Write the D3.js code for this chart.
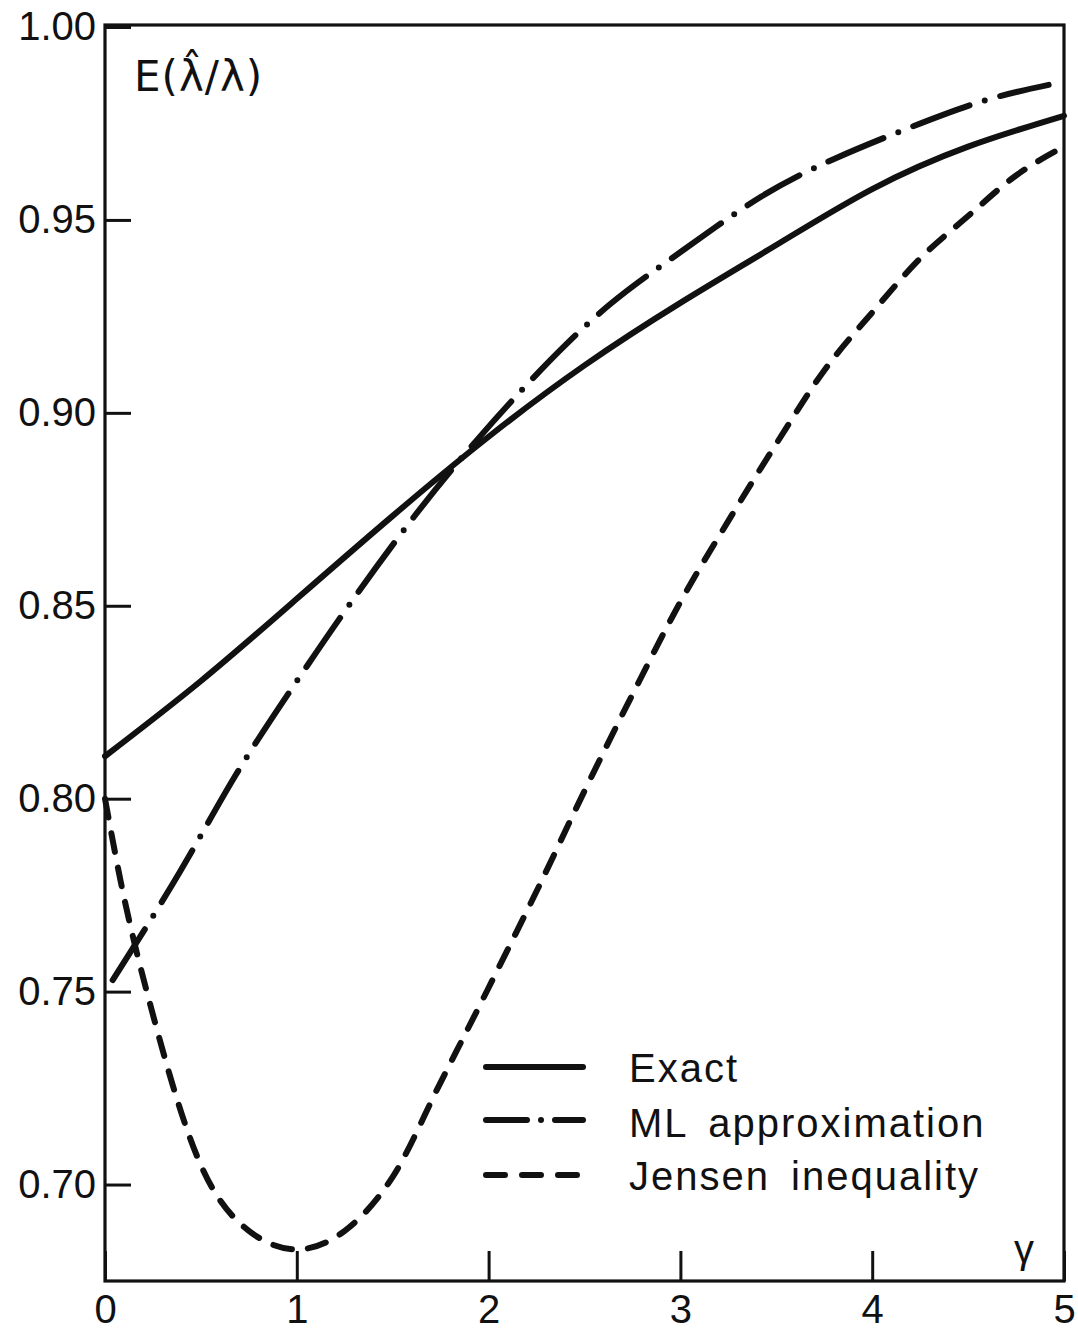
<!DOCTYPE html>
<html>
<head>
<meta charset="utf-8">
<script src="https://cdn.jsdelivr.net/npm/d3@7"></script>
<style>
  html, body { margin: 0; padding: 0; background: #fff; }
  svg { display: block; }
  text { font-family: "Liberation Sans", Arial, sans-serif; fill: #111; }
</style>
</head>
<body>
<svg id="chart" width="1078" height="1333"></svg>
<script>
// ---- data ----
const exactGamma  = [0, 0.5, 1, 1.5, 2, 2.5, 3, 3.5, 4, 4.5, 5];
const exactValues = [0.811, 0.8305, 0.8518, 0.8733, 0.8938, 0.9123, 0.9285, 0.9435, 0.958, 0.969, 0.977];

const mlGamma  = [0.04, 0.39, 0.68, 0.98, 1.27, 1.61, 1.94, 2.27, 2.63, 3.01, 3.42, 3.81, 4.20, 4.59, 4.92];
const mlValues = [0.753, 0.781, 0.806, 0.829, 0.850, 0.873, 0.893, 0.911, 0.928, 0.942, 0.956, 0.966, 0.974, 0.981, 0.985];

const jensenGamma  = [0, 0.08, 0.25, 0.5, 0.75, 1.0, 1.25, 1.5, 1.75, 2.0, 2.25, 2.5, 2.75, 3.0, 3.25, 3.5, 3.75, 4.0, 4.25, 4.5, 4.75, 5.0];
const jensenValues = [0.800, 0.779, 0.744, 0.705, 0.688, 0.6832, 0.688, 0.702, 0.7265, 0.751, 0.776, 0.802, 0.827, 0.851, 0.872, 0.892, 0.911, 0.926, 0.940, 0.951, 0.9615, 0.969];

const xTicks = [0, 1, 2, 3, 4, 5];
const yTicks = [0.70, 0.75, 0.80, 0.85, 0.90, 0.95, 1.00];
const seriesNames = ["Exact", "ML approximation", "Jensen inequality"];
const yLabel = "E(\u03BB\u0302/\u03BB)";
const xLabel = "\u03B3";

// ---- layout ----
const svg = d3.select("#chart");
const plotL = 105, plotR = 1064, plotT = 27, plotB = 1281;
const x = d3.scaleLinear().domain([0, 5]).range([plotL, plotR]);
const y = d3.scaleLinear().domain([0.675, 1.0]).range([plotB, plotT]);
const ink = "#111";

// frame
svg.append("rect")
  .attr("x", plotL).attr("y", plotT - 2)
  .attr("width", plotR - plotL).attr("height", plotB - plotT + 2)
  .attr("fill", "none").attr("stroke", ink).attr("stroke-width", 3.2);

// y axis
const yAxis = d3.axisLeft(y).tickValues(yTicks).tickFormat(d3.format(".2f"))
  .tickSizeInner(-26).tickSizeOuter(0).tickPadding(9);
const gy = svg.append("g").attr("transform", `translate(${plotL},0)`).call(yAxis);
gy.select(".domain").remove();
gy.selectAll("line").attr("stroke", ink).attr("stroke-width", 3);
gy.selectAll("text").attr("font-size", 40).attr("fill", ink)
  .style("font-family", '"Liberation Sans", Arial, sans-serif');

// x axis
const xAxis = d3.axisBottom(x).tickValues(xTicks).tickFormat(d3.format("d"))
  .tickSizeInner(-30).tickSizeOuter(0).tickPadding(14);
const gx = svg.append("g").attr("transform", `translate(0,${plotB})`).call(xAxis);
gx.select(".domain").remove();
gx.selectAll("line").attr("stroke", ink).attr("stroke-width", 3);
gx.selectAll("text").attr("font-size", 40).attr("fill", ink)
  .style("font-family", '"Liberation Sans", Arial, sans-serif');

// curves
const zip = (a, b) => a.map((v, i) => [v, b[i]]);
const styles = [
  { data: zip(exactGamma, exactValues), dash: null, curve: d3.curveNatural },
  { data: zip(mlGamma, mlValues), dash: "60 16 0 16", curve: d3.curveNatural },
  { data: zip(jensenGamma, jensenValues), dash: "19 16", curve: d3.curveMonotoneX }
];
styles.forEach(s => {
  const line = d3.line().x(d => x(d[0])).y(d => y(d[1])).curve(s.curve);
  svg.append("path").datum(s.data)
    .attr("d", line)
    .attr("fill", "none").attr("stroke", ink)
    .attr("stroke-width", 6).attr("stroke-linecap", "round")
    .attr("stroke-dasharray", s.dash);
});

// legend
const legendDash = [null, "41 14 0 14 100", "19 17"];
const legendLineY = [1067, 1120, 1175];
const legendTextY = [1082, 1137, 1190];
seriesNames.forEach((name, i) => {
  svg.append("line")
    .attr("x1", 486).attr("x2", 583)
    .attr("y1", legendLineY[i]).attr("y2", legendLineY[i])
    .attr("stroke", ink).attr("stroke-width", 6).attr("stroke-linecap", "round")
    .attr("stroke-dasharray", legendDash[i]);
  svg.append("text")
    .attr("x", 629).attr("y", legendTextY[i])
    .attr("font-size", 40)
    .style("letter-spacing", "2px")
    .style("word-spacing", "8px")
    .text(name);
});

// axis titles
svg.append("text").attr("x", 134).attr("y", 91)
  .attr("font-size", 42)
  .style("font-family", '"DejaVu Sans", sans-serif')
  .style("letter-spacing", "1px")
  .text(yLabel);
svg.append("text").attr("x", 1014).attr("y", 1263)
  .attr("font-size", 40)
  .text(xLabel);
</script>
</body>
</html>
